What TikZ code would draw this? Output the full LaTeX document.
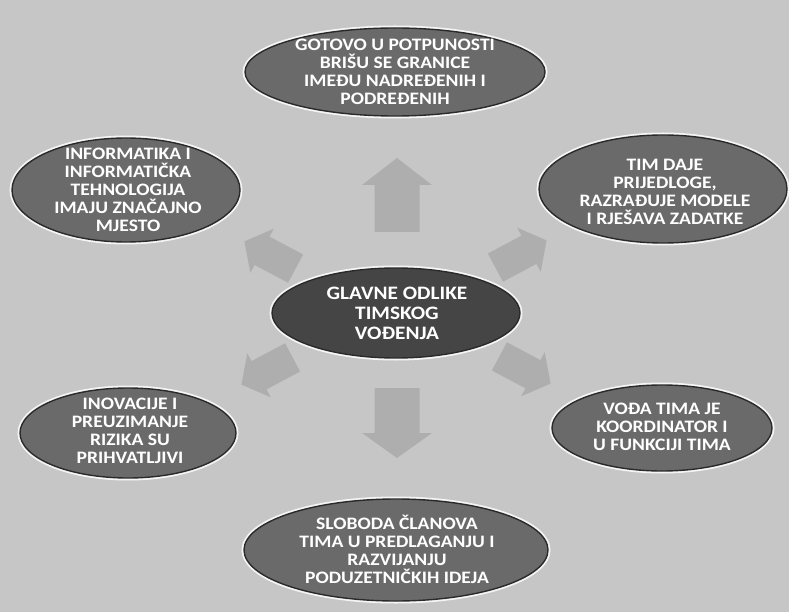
\documentclass[tikz,border=0pt]{standalone}
\usepackage{fontspec}
\setmainfont{Carlito}[FakeStretch=1.12]
\usetikzlibrary{shapes.geometric}
\definecolor{bgc}{HTML}{C6C6C6}
\definecolor{ellc}{HTML}{6A6A6A}
\definecolor{ctrc}{HTML}{454545}
\definecolor{rimc}{HTML}{2A2A2A}
\definecolor{arrc}{HTML}{AEAEAE}
\tikzset{
  oval/.style={ellipse, fill=ellc, draw=rimc, line width=1.4pt, inner sep=0pt,
    preaction={draw=white!92!gray, line width=5pt}},
  ovaltext/.style={text=white, font=\bfseries\fontsize{17.5}{18}\selectfont, align=center, inner sep=0pt},
  blockarrow/.style={fill=arrc, draw=none},
}
% \barrow{name}{x}{y}{angle}{length}{headwidth}{shaftwidth}{headlength}
\newcommand{\barrow}[8]{%
  \begin{scope}[shift={(#2,#3)}, rotate=#4]
    \coordinate (#1) at (0,0);
    \fill[blockarrow] (-#5/2,-#7/2) -- (#5/2-#8,-#7/2) -- (#5/2-#8,-#6/2)
      -- (#5/2,0) -- (#5/2-#8,#6/2) -- (#5/2-#8,#7/2) -- (-#5/2,#7/2) -- cycle;
  \end{scope}}
\begin{document}
\begin{tikzpicture}[x=1pt,y=-1pt]
\useasboundingbox (0,0) rectangle (789,612);
\fill[bgc] (0,0) rectangle (789,612);

% ellipses
\node[oval, minimum width=300pt, minimum height=88pt] (top) at (395,72) {};
\node[oval, minimum width=228pt, minimum height=104pt] (tl) at (126,190) {};
\node[oval, minimum width=248pt, minimum height=108pt] (tr) at (663,189) {};
\node[oval, fill=ctrc, minimum width=248pt, minimum height=90pt] (ctr) at (396,313) {};
\node[oval, minimum width=216pt, minimum height=90pt] (bl) at (128,433) {};
\node[oval, minimum width=220pt, minimum height=86pt] (br) at (662,428) {};
\node[oval, minimum width=304pt, minimum height=102pt] (bot) at (396,550) {};

% texts
\node[ovaltext] (toptx) at (395,72) {GOTOVO U POTPUNOSTI\\BRIŠU SE GRANICE\\IMEĐU NADREĐENIH I\\PODREĐENIH};
\node[ovaltext] (tltx) at (128,190) {INFORMATIKA I\\INFORMATIČKA\\TEHNOLOGIJA\\IMAJU ZNAČAJNO\\MJESTO};
\node[ovaltext] (trtx) at (665,192) {TIM DAJE\\PRIJEDLOGE,\\RAZRAĐUJE MODELE\\I RJEŠAVA ZADATKE};
\node[ovaltext, font=\bfseries\fontsize{19}{20}\selectfont] (ctrtx) at (397,313) {GLAVNE ODLIKE\\TIMSKOG\\VOĐENJA};
\node[ovaltext] (bltx) at (130,431) {INOVACIJE I\\PREUZIMANJE\\RIZIKA SU\\PRIHVATLJIVI};
\node[ovaltext] (brtx) at (662,427) {VOĐA TIMA JE\\KOORDINATOR I\\U FUNKCIJI TIMA};
\node[ovaltext] (bottx) at (397,549) {SLOBODA ČLANOVA\\TIMA U PREDLAGANJU I\\RAZVIJANJU\\PODUZETNIČKIH IDEJA};

% block arrows
\barrow{aup}{397}{195}{90}{74}{70}{45}{27}
\barrow{adn}{397}{423}{-90}{70}{70}{45}{25}
\barrow{aul}{270}{255}{152}{58}{50}{32}{20}
\barrow{aur}{521}{254}{28}{58}{50}{32}{20}
\barrow{all}{267}{371}{208}{58}{50}{32}{20}
\barrow{alr}{525}{370}{-28}{58}{50}{32}{20}
\end{tikzpicture}
\end{document}
